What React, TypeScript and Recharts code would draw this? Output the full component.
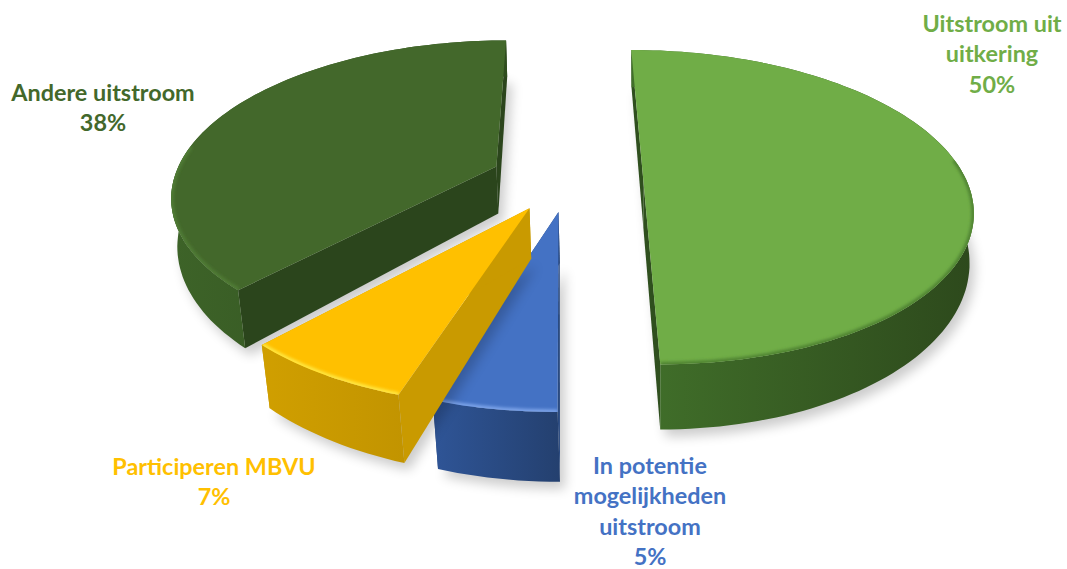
import { Pie, PieChart } from "recharts";

const names = ["Andere uitstroom", "Uitstroom uit uitkering", "In potentie mogelijkheden uitstroom", "Participeren MBVU"];
const shares = [38, 50, 5, 7];
const labelLines = [
  ["Andere uitstroom"],
  ["Uitstroom uit", "uitkering"],
  ["In potentie", "mogelijkheden", "uitstroom"],
  ["Participeren MBVU"],
];

const data = names.map((name, i) => ({ name, value: shares[i] }));

const WIDTH = 1067;
const HEIGHT = 569;
const CX = 569;
const CY = 180;
const RADIUS = 323;
const SQUASH = 0.472;
const PERSPECTIVE = 0.174;
const DEPTH = 48;
const VANISH_X = 655;
const CONVERGE = 0.012;

const explode = [0.245, 0.23, 0.205, 0.215];
const aim = [0, 0, 0, 3];
const topColors = ["#43682b", "#70ad47", "#4472c4", "#ffc000"];
const rimColors = ["#507c35", "#4f8332", "#7aa2e8", "#ffe640"];
const sideColors = ["#2b451c", "#2f4f1e", "#2a4a80", "#c99a00"];
const wallFrom = ["#3d6328", "#41702a", "#2f5597", "#d09f00"];
const wallTo = ["#2f4d1e", "#2d491c", "#24406f", "#c29400"];
const labelX = [103, 992, 650, 214];
const labelY = [101, 32, 474, 475];
const LINE_GAP = 30.3;

type P = { x: number; y: number };

function project(theta: number, r: number, mid: number, e: number, lower: boolean): P {
  const rad = (theta * Math.PI) / 180;
  const m = (mid * Math.PI) / 180;
  const wx = r * Math.sin(rad) + e * Math.sin(m);
  const wz = r * Math.cos(rad) + e * Math.cos(m);
  const w = 1 + PERSPECTIVE * wz;
  const x = CX + (RADIUS * wx) / w;
  const y = CY - (RADIUS * SQUASH * wz) / w;
  if (!lower) return { x, y };
  return { x: x + ((VANISH_X - x) * CONVERGE) / w ** 3, y: y + DEPTH / w ** 1.6 };
}

const toPath = (pts: P[]) =>
  pts.map((p, i) => `${i === 0 ? "M" : "L"}${p.x.toFixed(1)},${p.y.toFixed(1)}`).join(" ");

function Slice(props: any) {
  const i = names.indexOf(props.name ?? props.payload?.name);
  const a0 = 90 - props.startAngle;
  const a1 = 90 - props.endAngle;
  const mid = (a0 + a1) / 2 + aim[i];
  const e = explode[i];
  const thetas: number[] = [];
  const steps = Math.ceil(Math.abs(a1 - a0) / 1.5);
  for (let s = 0; s <= steps; s++) thetas.push(a0 + ((a1 - a0) * s) / steps);

  const top = thetas.map((t) => project(t, 1, mid, e, false));
  const bottom = thetas.map((t) => project(t, 1, mid, e, true));
  const apexTop = project(0, 0, mid, e, false);
  const apexBottom = project(0, 0, mid, e, true);
  const rim = thetas.filter((t) => Math.cos((t * Math.PI) / 180) < 0.15).map((t) => project(t, 1, mid, e, false));

  const face = `${toPath([apexTop, ...top])} Z`;
  const outer = `${toPath([...top, ...[...bottom].reverse()])} Z`;
  const sideA = `${toPath([apexTop, top[0], bottom[0], apexBottom])} Z`;
  const sideB = `${toPath([apexTop, top[top.length - 1], bottom[bottom.length - 1], apexBottom])} Z`;
  const base = `${toPath([apexBottom, ...bottom])} Z`;

  return (
    <g>
      <defs>
        <linearGradient id={`wall${i}`} gradientUnits="objectBoundingBox" x1="0" x2="1" y1="0" y2="0">
          <stop offset="0%" stopColor={wallFrom[i]} />
          <stop offset="100%" stopColor={wallTo[i]} />
        </linearGradient>
        <filter id={`soft${i}`} x="-20%" y="-20%" width="140%" height="140%">
          <feGaussianBlur stdDeviation="6" />
        </filter>
        <filter id={`rim${i}`} x="-10%" y="-30%" width="120%" height="160%">
          <feGaussianBlur stdDeviation="1.4" />
        </filter>
        <clipPath id={`clip${i}`}>
          <path d={face} />
        </clipPath>
      </defs>
      <path d={base} fill="#000" opacity={0.2} transform="translate(5,7)" filter={`url(#soft${i})`} />
      <path d={sideA} fill={sideColors[i]} />
      <path d={sideB} fill={sideColors[i]} />
      <path d={outer} fill={`url(#wall${i})`} />
      <path d={face} fill={topColors[i]} />
      <g clipPath={`url(#clip${i})`}>
        <path d={toPath(rim)} fill="none" stroke={rimColors[i]} strokeWidth={5} filter={`url(#rim${i})`} />
      </g>
    </g>
  );
}

function SliceLabel(props: any) {
  const i = props.index;
  const lines = [...labelLines[i], `${shares[i]}%`];
  return (
    <text
      x={labelX[i]}
      y={labelY[i]}
      textAnchor="middle"
      fill={topColors[i]}
      fontFamily="Lato, sans-serif"
      fontWeight={700}
      fontSize={23.4}
    >
      {lines.map((line, n) => (
        <tspan key={n} x={labelX[i]} y={labelY[i] + n * LINE_GAP}>
          {line}
        </tspan>
      ))}
    </text>
  );
}

export default function App() {
  return (
    <div style={{ position: "absolute", left: 0, top: 0, width: WIDTH, height: HEIGHT, background: "#fff" }}>
      <PieChart width={WIDTH} height={HEIGHT} margin={{ top: 0, right: 0, bottom: 0, left: 0 }}>
        <Pie
          data={data}
          dataKey="value"
          nameKey="name"
          cx={CX}
          cy={CY}
          innerRadius={0}
          outerRadius={RADIUS}
          startAngle={-133}
          endAngle={-493}
          stroke="none"
          shape={Slice}
          label={SliceLabel}
          labelLine={false}
          isAnimationActive={false}
        />
      </PieChart>
    </div>
  );
}
